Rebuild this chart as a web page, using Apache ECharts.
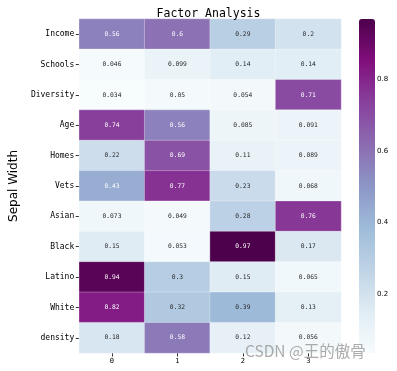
<!DOCTYPE html>
<html>
<head>
<meta charset="utf-8">
<script src="https://cdn.jsdelivr.net/npm/echarts@6/dist/echarts.min.js"></script>
<style>html,body{margin:0;padding:0;background:#fff}#c{width:397px;height:371px}</style>
</head>
<body>
<div id="c"></div>
<script>
const titleText = 'Factor Analysis';
const yName = 'Sepal Width';
const xCategories = ['0', '1', '2', '3'];
const yCategories = ['Income', 'Schools', 'Diversity', 'Age', 'Homes', 'Vets', 'Asian', 'Black', 'Latino', 'White', 'density'];
const col0 = [0.56, 0.046, 0.034, 0.74, 0.22, 0.43, 0.073, 0.15, 0.94, 0.82, 0.18];
const col1 = [0.6, 0.099, 0.05, 0.56, 0.69, 0.77, 0.049, 0.053, 0.3, 0.32, 0.58];
const col2 = [0.29, 0.14, 0.054, 0.085, 0.11, 0.23, 0.28, 0.97, 0.15, 0.39, 0.12];
const col3 = [0.2, 0.14, 0.71, 0.091, 0.089, 0.068, 0.76, 0.17, 0.065, 0.13, 0.056];
const colorbarTicks = [0.2, 0.4, 0.6, 0.8];
const watermark = 'CSDN @王的傲骨';

const columns = [col0, col1, col2, col3];
const allVals = columns.flat();
const vMin = Math.min(...allVals);
const vMax = Math.max(...allVals);
const bupu = ['#f7fcfd','#e0ecf4','#bfd3e6','#9ebcda','#8c96c6','#8c6bb1','#88419d','#810f7c','#4d004b'];

const data = [];
columns.forEach((col, xi) => {
  col.forEach((v, yi) => {
    data.push({ value: [xi, yi, v], label: { color: v > 0.41 ? '#ffffff' : '#262626' } });
  });
});

const mono = 'DejaVu Sans Mono';
const chart = echarts.init(document.getElementById('c'), null, { renderer: 'canvas' });
chart.setOption({
  animation: false,
  backgroundColor: '#ffffff',
  title: {
    text: titleText, left: 203.5, top: 3, textAlign: 'center',
    textStyle: { fontFamily: mono, fontSize: 11.5, fontWeight: 'normal', color: '#000' }
  },
  grid: [
    { left: 66, top: 19, width: 275, height: 334 },
    { left: 359, top: 19, width: 16, height: 334 }
  ],
  xAxis: [
    {
      type: 'category', data: xCategories, gridIndex: 0, position: 'bottom',
      axisLine: { show: false },
      axisTick: { show: true, alignWithLabel: true, length: 3.5, lineStyle: { color: '#333' } },
      axisLabel: { fontFamily: mono, fontSize: 7, color: '#000', margin: 5 },
      splitLine: { show: false }
    },
    { type: 'value', gridIndex: 1, show: false }
  ],
  yAxis: [
    {
      type: 'category', data: yCategories, gridIndex: 0, inverse: true,
      name: yName, nameLocation: 'middle', nameRotate: 90, nameGap: 48,
      nameTextStyle: { fontFamily: 'DejaVu Sans', fontSize: 12, color: '#000' },
      axisLine: { show: false },
      axisTick: { show: true, alignWithLabel: true, length: 3.5, lineStyle: { color: '#333' } },
      axisLabel: { fontFamily: mono, fontSize: 8, color: '#000', margin: 5 },
      splitLine: { show: false }
    },
    {
      type: 'value', gridIndex: 1, position: 'right', min: vMin, max: vMax,
      axisLine: { show: false },
      axisTick: { show: true, length: 3, customValues: colorbarTicks, lineStyle: { color: '#333' } },
      axisLabel: { fontFamily: 'DejaVu Sans', fontSize: 7, color: '#000', margin: 2, customValues: colorbarTicks, formatter: v => v.toFixed(1) },
      splitLine: { show: false }
    }
  ],
  visualMap: {
    type: 'continuous', min: vMin, max: vMax, calculable: false, seriesIndex: 0,
    left: 359, top: 19, itemWidth: 16, itemHeight: 334, padding: 0,
    orient: 'vertical', text: null, showLabel: false,
    inRange: { color: bupu }
  },
  graphic: [
    {
      type: 'text', left: 245, top: 343, z: 100,
      style: { text: watermark, font: '15.5px "Noto Sans CJK SC", sans-serif', fill: 'rgba(150,150,150,0.8)' }
    }
  ],
  series: [
    {
      type: 'heatmap', xAxisIndex: 0, yAxisIndex: 0, data: data,
      label: { show: true, fontFamily: mono, fontSize: 6.3, formatter: p => String(p.value[2]) },
      itemStyle: { borderColor: 'rgba(255,255,255,0.6)', borderWidth: 0.5 }
    },
    { type: 'scatter', xAxisIndex: 1, yAxisIndex: 1, data: [] }
  ]
});
</script>
</body>
</html>
